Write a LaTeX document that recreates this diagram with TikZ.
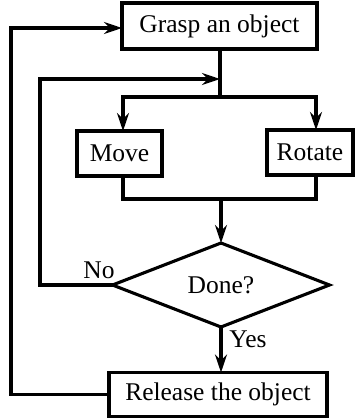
\documentclass[tikz,border=0pt]{standalone}
\usepackage{fontspec}
\setmainfont{Liberation Serif}
\usetikzlibrary{arrows.meta,shapes.geometric}
\begin{document}
\begin{tikzpicture}[x=1pt,y=-1pt,
  line width=3.1pt,
  box/.style={draw,rectangle,inner sep=0pt,outer sep=0pt,line width=3.1pt},
  dia/.style={draw,diamond,inner sep=0pt,outer sep=0pt,line width=3.1pt},
  arr/.style={-{Stealth[length=18pt,width=12pt,inset=6pt]}},
  lbl/.style={inner sep=0pt},
  font=\fontsize{25.5}{30}\selectfont]
\useasboundingbox (0,0) rectangle (355,418);
\node[box,minimum width=195pt,minimum height=46pt] (grasp) at (219.5,26) {Grasp an object};
\node[box,minimum width=85pt,minimum height=45pt] (move) at (119.5,153.5) {Move};
\node[box,minimum width=86pt,minimum height=45pt] (rotate) at (310,152.5) {Rotate};
\node[dia,minimum width=217pt,minimum height=84pt] (done) at (221,285) {Done?};
\node[box,minimum width=218pt,minimum height=44pt] (release) at (218,394.5) {Release the object};
\coordinate (j1) at (220,97);
\coordinate (j3) at (220,79);
\coordinate (j2) at (221,199);
\coordinate (lnl) at (40,285);
\coordinate (lout) at (11,395);
% grasp down to split
\draw ([xshift=0.5pt]grasp.south) -- (j1);
\draw[arr] (j1) -| ([xshift=3.5pt]move.north);
\draw[arr] (j1) -| ([xshift=6pt]rotate.north);
% merge
\draw ([xshift=3.5pt]move.south) |- (j2) -| ([xshift=6pt]rotate.south);
\draw[arr] (j2) -- (done.north);
% no loop
\draw[arr] (done.west) -- (lnl) |- (j3);
% yes
\draw[arr] (done.south) -- (done.south |- release.north);
% outer loop
\draw[arr] (release.west) -- (release.west -| lout) |- ([yshift=-2pt]grasp.west);
% labels
\node[lbl] (no) at (99,270) {No};
\node[lbl] (yes) at (248,339) {Yes};
\end{tikzpicture}
\end{document}
